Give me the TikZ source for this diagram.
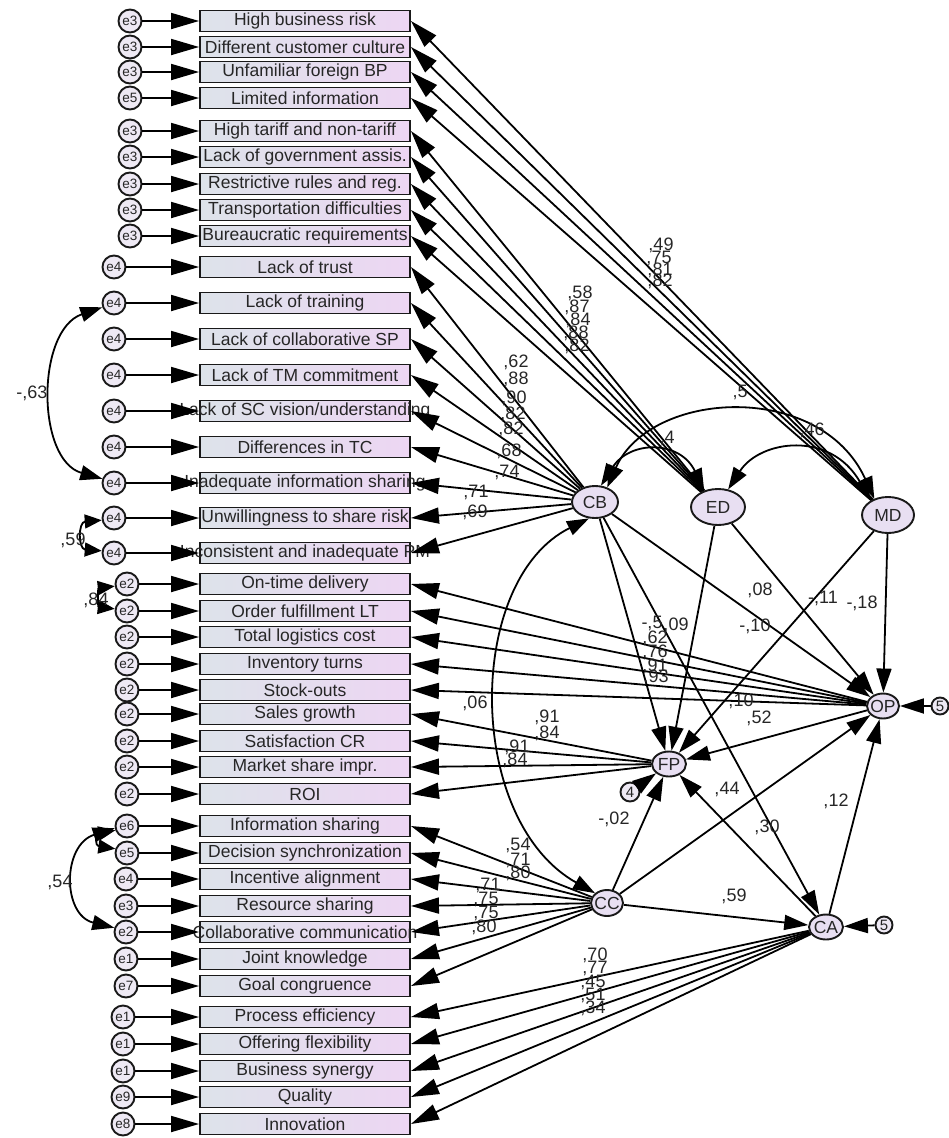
\documentclass[tikz,border=0pt]{standalone}
\usepackage{fontspec}
\setmainfont{Liberation Sans}
\usetikzlibrary{arrows.meta,shapes.geometric}
\definecolor{boxL}{HTML}{DDE3EA}
\definecolor{boxR}{HTML}{EDD6F3}
\definecolor{latfill}{HTML}{E8DFF2}
\definecolor{errfill}{HTML}{EEE9F4}
\newcommand{\bt}[1]{\makebox[200pt]{#1}}
\newcommand{\zt}[1]{\makebox[0pt]{#1}}
\begin{document}
\begin{tikzpicture}[x=1pt,y=-1pt,
  every node/.style={font=\fontsize{17.5}{18}\selectfont, text=black!85},
  ind/.style={rectangle, draw=black!90, line width=1.9pt, minimum width=210pt, minimum height=21pt,
    inner sep=0pt, left color=boxL, right color=boxR},
  lat/.style={ellipse, draw=black!90, line width=1.9pt, fill=latfill, inner sep=0pt},
  err/.style={circle, draw=black!90, line width=1.9pt, fill=errfill, minimum size=23pt, inner sep=0pt,
    font=\fontsize{13.5}{13.5}\selectfont},
  lab/.style={inner sep=0pt, font=\fontsize{18}{18}\selectfont},
  big/.style={-{Triangle[length=28pt,width=16pt]}, line width=1.8pt},
  mid/.style={-{Triangle[length=24pt,width=15pt]}, line width=1.8pt},
  cov/.style={{Triangle[length=22pt,width=15pt]}-{Triangle[length=22pt,width=15pt]}, line width=1.8pt},
  covs/.style={{Triangle[length=17pt,width=14pt]}-{Triangle[length=17pt,width=14pt]}, line width=1.8pt},
]
\useasboundingbox (0,0) rectangle (948,1138);

% ---------- observed indicators ----------
\node[ind] (b1) at (305,21) {\bt{High business risk}};
\node[ind] (b2) at (305,47) {\bt{Different customer culture}};
\node[ind] (b3) at (305,72) {\bt{Unfamiliar foreign BP}};
\node[ind] (b4) at (305,98) {\bt{Limited information}};
\node[ind] (b5) at (305,131) {\bt{High tariff and non-tariff}};
\node[ind] (b6) at (305,157) {\bt{Lack of government assis.}};
\node[ind] (b7) at (305,184) {\bt{Restrictive rules and reg.}};
\node[ind] (b8) at (305,210) {\bt{Transportation difficulties}};
\node[ind] (b9) at (305,236) {\bt{Bureaucratic requirements}};
\node[ind] (b10) at (305,267) {\bt{Lack of trust}};
\node[ind] (b11) at (305,303) {\bt{Lack of training}};
\node[ind] (b12) at (305,339) {\bt{Lack of collaborative SP}};
\node[ind] (b13) at (305,375) {\bt{Lack of TM commitment}};
\node[ind] (b14) at (305,411) {\bt{Lack of SC vision/understanding}};
\node[ind] (b15) at (305,447) {\bt{Differences in TC}};
\node[ind] (b16) at (305,483) {\bt{Inadequate information sharing}};
\node[ind] (b17) at (305,518) {\bt{Unwillingness to share risk}};
\node[ind] (b18) at (305,553) {\bt{Inconsistent and inadequate PM}};
\node[ind] (b19) at (305,584) {\bt{On-time delivery}};
\node[ind] (b20) at (305,611) {\bt{Order fulfillment LT}};
\node[ind] (b21) at (305,637) {\bt{Total logistics cost}};
\node[ind] (b22) at (305,664) {\bt{Inventory turns}};
\node[ind] (b23) at (305,690) {\bt{Stock-outs}};
\node[ind] (b24) at (305,714) {\bt{Sales growth}};
\node[ind] (b25) at (305,741) {\bt{Satisfaction CR}};
\node[ind] (b26) at (305,767) {\bt{Market share impr.}};
\node[ind] (b27) at (305,794) {\bt{ROI}};
\node[ind] (b28) at (305,826) {\bt{Information sharing}};
\node[ind] (b29) at (305,853) {\bt{Decision synchronization}};
\node[ind] (b30) at (305,879) {\bt{Incentive alignment}};
\node[ind] (b31) at (305,906) {\bt{Resource sharing}};
\node[ind] (b32) at (305,932) {\bt{Collaborative communication}};
\node[ind] (b33) at (305,959) {\bt{Joint knowledge}};
\node[ind] (b34) at (305,986) {\bt{Goal congruence}};
\node[ind] (b35) at (305,1017) {\bt{Process efficiency}};
\node[ind] (b36) at (305,1044) {\bt{Offering flexibility}};
\node[ind] (b37) at (305,1071) {\bt{Business synergy}};
\node[ind] (b38) at (305,1097) {\bt{Quality}};
\node[ind] (b39) at (305,1124) {\bt{Innovation}};

% ---------- error terms of the indicators ----------
\node[err] (e1) at (130,21) {e3};
\node[err] (e2) at (130,47) {e3};
\node[err] (e3) at (130,72) {e3};
\node[err] (e4) at (130,98) {e5};
\node[err] (e5) at (130,131) {e3};
\node[err] (e6) at (130,157) {e3};
\node[err] (e7) at (130,184) {e3};
\node[err] (e8) at (130,210) {e3};
\node[err] (e9) at (130,236) {e3};
\node[err] (e10) at (114,267) {e4};
\node[err] (e11) at (114,303) {e4};
\node[err] (e12) at (114,339) {e4};
\node[err] (e13) at (114,375) {e4};
\node[err] (e14) at (114,411) {e4};
\node[err] (e15) at (114,447) {e4};
\node[err] (e16) at (114,483) {e4};
\node[err] (e17) at (114,518) {e4};
\node[err] (e18) at (114,553) {e4};
\node[err] (e19) at (127,584) {e2};
\node[err] (e20) at (127,611) {e2};
\node[err] (e21) at (127,637) {e2};
\node[err] (e22) at (127,664) {e2};
\node[err] (e23) at (127,690) {e2};
\node[err] (e24) at (127,714) {e2};
\node[err] (e25) at (127,741) {e2};
\node[err] (e26) at (127,767) {e2};
\node[err] (e27) at (127,794) {e2};
\node[err] (e28) at (127,826) {e6};
\node[err] (e29) at (127,853) {e5};
\node[err] (e30) at (126,879) {e4};
\node[err] (e31) at (126,906) {e3};
\node[err] (e32) at (126,932) {e2};
\node[err] (e33) at (126,959) {e1};
\node[err] (e34) at (126,986) {e7};
\node[err] (e35) at (123,1017) {e1};
\node[err] (e36) at (123,1044) {e1};
\node[err] (e37) at (123,1071) {e1};
\node[err] (e38) at (123,1097) {e9};
\node[err] (e39) at (123,1124) {e8};

\foreach \i in {1,...,39} { \draw[big] (e\i) -- (b\i); }

% ---------- latent variables ----------
\node[lat, minimum width=46pt, minimum height=32pt] (CB) at (595,502) {\zt{CB}};
\node[lat, minimum width=54pt, minimum height=36pt] (ED) at (718,507) {\zt{ED}};
\node[lat, minimum width=52pt, minimum height=36pt] (MD) at (888,515) {\zt{MD}};
\node[lat, minimum width=32pt, minimum height=25pt] (OP) at (883,706) {\zt{OP}};
\node[lat, minimum width=34pt, minimum height=25pt] (FP) at (669,764) {\zt{FP}};
\node[lat, minimum width=32pt, minimum height=26pt] (CC) at (607,903) {\zt{CC}};
\node[lat, minimum width=34pt, minimum height=25pt] (CA) at (826,927) {\zt{CA}};
\node[err, minimum size=17pt, font=\fontsize{15}{15}\selectfont] (eOP) at (940,706) {\zt{5}};
\node[err, minimum size=17pt, font=\fontsize{15}{15}\selectfont] (eCA) at (884,925) {\zt{5}};
\node[err, minimum size=19pt, font=\fontsize{15}{15}\selectfont] (eFP) at (630,792) {\zt{4}};

% ---------- loadings ----------
\foreach \i in {1,...,4} { \draw[big] (MD) -- (b\i.east); }
\foreach \i in {5,...,9} { \draw[big] (ED) -- (b\i.east); }
\foreach \i in {10,...,18} { \draw[big] (CB) -- (b\i.east); }
\foreach \i in {19,...,23} { \draw[big] (OP) -- (b\i.east); }
\foreach \i in {24,...,27} { \draw[big] (FP) -- (b\i.east); }
\foreach \i in {28,...,34} { \draw[big] (CC) -- (b\i.east); }
\foreach \i in {35,...,39} { \draw[big] (CA) -- (b\i.east); }

% ---------- structural paths ----------
\draw[mid] (CB) -- (FP);
\draw[mid] (CB) -- (OP);
\draw[mid] (CB) -- (CA);
\draw[mid] (ED) -- (FP);
\draw[mid] (ED) -- (OP);
\draw[mid] (MD) -- (FP);
\draw[mid] (MD) -- (OP);
\draw[mid] (CC) -- (FP);
\draw[mid] (CC) -- (OP);
\draw[mid] (CC) -- (CA);
\draw[mid] (CA) -- (FP);
\draw[mid] (CA) -- (OP);
\draw[mid] (OP) -- (FP);
\draw[mid] (eOP) -- (OP);
\draw[mid] (eCA) -- (CA);
\draw[mid] (eFP) -- (FP);

% ---------- covariances ----------
\draw[cov] (CB.250) .. controls (465,580) and (465,820) .. (CC.north west);
\draw[cov] (CB.70) .. controls (630,440) and (680,440) .. (ED.130);
\draw[cov] (CB.50) .. controls (650,390) and (820,380) .. (MD.130);
\draw[cov] (ED.60) .. controls (760,440) and (830,430) .. (MD.140);
\draw[cov] (e11.200) .. controls (36,330) and (36,460) .. (e16.160);
\draw[covs] (e17.190) .. controls (78,522) and (78,549) .. (e18.170);
\draw[covs] (e19.190) .. controls (98,588) and (98,607) .. (e20.170);
\draw[covs] (e28.200) .. controls (95,834) and (95,846) .. (e29.160);
\draw[cov] (e28.190) .. controls (62,845) and (62,915) .. (e32.160);

% ---------- estimates ----------
\node[lab] (m1) at (661,245) {,49};
\node[lab] (m2) at (659,258) {,75};
\node[lab] (m3) at (660,270) {,81};
\node[lab] (m4) at (660,281) {,82};
\node[lab] (d1) at (580,293) {,58};
\node[lab] (d2) at (577,307) {,87};
\node[lab] (d3) at (578,320) {,84};
\node[lab] (d4) at (576,333) {,88};
\node[lab] (d5) at (577,346) {,82};
\node[lab] (c1) at (516,362) {,62};
\node[lab] (c2) at (516,379) {,88};
\node[lab] (c3) at (514,398) {,90};
\node[lab] (c4) at (513,414) {,82};
\node[lab] (c5) at (511,429) {,82};
\node[lab] (c6) at (509,451) {,68};
\node[lab] (c7) at (507,472) {,74};
\node[lab] (c8) at (476,492) {,71};
\node[lab] (c9) at (475,512) {,69};
\node[lab] (r1) at (740,392) {,5};
\node[lab] (r2) at (667,438) {,4};
\node[lab] (r3) at (812,430) {,46};
\node[lab] (s1) at (760,590) {,08};
\node[lab] (s2) at (755,626) {-,10};
\node[lab] (s3) at (823,598) {-,11};
\node[lab] (s4) at (862,603) {-,18};
\node[lab] (s5) at (652,623) {-,5};
\node[lab] (s6) at (676,625) {,09};
\node[lab] (o2) at (655,638) {,62};
\node[lab] (o3) at (655,652) {,76};
\node[lab] (o4) at (655,666) {,91};
\node[lab] (o5) at (656,677) {,93};
\node[lab] (s7) at (741,701) {,10};
\node[lab] (s8) at (759,718) {,52};
\node[lab] (s9) at (475,703) {,06};
\node[lab] (f1) at (547,717) {,91};
\node[lab] (f2) at (547,733) {,84};
\node[lab] (f3) at (517,747) {,91};
\node[lab] (f4) at (515,760) {,84};
\node[lab] (s10) at (614,819) {-,02};
\node[lab] (s11) at (727,789) {,44};
\node[lab] (s12) at (767,827) {,30};
\node[lab] (s13) at (836,801) {,12};
\node[lab] (s14) at (734,896) {,59};
\node[lab] (g1) at (518,845) {,54};
\node[lab] (g2) at (518,860) {,71};
\node[lab] (g3) at (518,873) {,80};
\node[lab] (g4) at (488,885) {,71};
\node[lab] (g5) at (486,899) {,75};
\node[lab] (g6) at (486,913) {,75};
\node[lab] (g7) at (484,927) {,80};
\node[lab] (a1) at (595,955) {,70};
\node[lab] (a2) at (595,968) {,77};
\node[lab] (a3) at (593,982) {,45};
\node[lab] (a4) at (593,995) {,51};
\node[lab] (a5) at (593,1008) {,34};
\node[lab] (k1) at (32,393) {-,63};
\node[lab] (k2) at (73,540) {,59};
\node[lab] (k3) at (96,600) {,84};
\node[lab] (k4) at (60,882) {,54};
\end{tikzpicture}
\end{document}
